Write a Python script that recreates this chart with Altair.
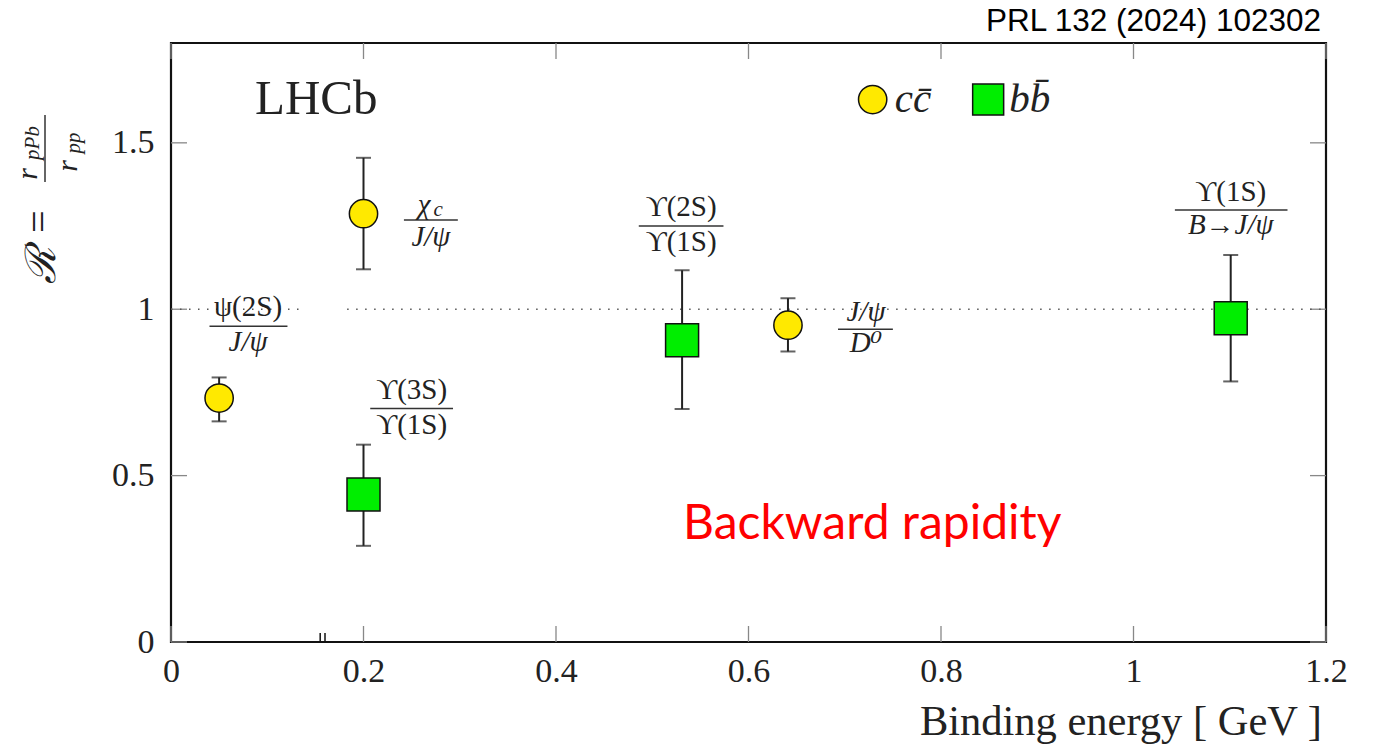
import altair as alt
import pandas as pd

# ---- data ----
cc_x = [0.050, 0.200, 0.641]
cc_y = [0.733, 1.287, 0.952]
cc_lo = [0.663, 1.120, 0.873]
cc_hi = [0.795, 1.455, 1.033]

bb_x = [0.200, 0.531, 1.101]
bb_y = [0.443, 0.907, 0.973]
bb_lo = [0.289, 0.700, 0.783]
bb_hi = [0.593, 1.117, 1.163]

lbl_num = ["ψ(2S)", "χ", "ϒ(3S)", "ϒ(2S)", "J/ψ", "ϒ(1S)"]
lbl_num_it = [False, True, False, False, True, False]
lbl_den = ["J/ψ", "J/ψ", "ϒ(1S)", "ϒ(1S)", "D⁰", "B→J/ψ"]
lbl_den_it = [True, True, False, False, True, True]
lbl_x = [0.080, 0.270, 0.250, 0.530, 0.722, 1.101]
lbl_num_x = [0.080, 0.263, 0.250, 0.530, 0.722, 1.101]
lbl_num_y = [1.006, 1.312, 0.756, 1.306, 0.992, 1.351]
lbl_bar_y = [0.949, 1.268, 0.702, 1.250, 0.940, 1.298]
lbl_den_y = [0.901, 1.218, 0.652, 1.203, 0.898, 1.254]
lbl_x1 = [0.040, 0.242, 0.207, 0.486, 0.693, 1.043]
lbl_x2 = [0.121, 0.298, 0.293, 0.574, 0.750, 1.160]

sub_text = ["c"]
sub_x = [0.2775]
sub_y = [1.297]

ref_x1 = [0.0, 0.183]
ref_x2 = [0.136, 1.2]
ref_y = [1.0, 1.0]

x_ticks = [0, 0.2, 0.4, 0.6, 0.8, 1.0, 1.2]
y_ticks = [0, 0.5, 1.0, 1.5]
mini_ticks = [0.155, 0.160]

SERIF = "Liberation Serif, DejaVu Serif, serif"
W, H = 1155, 599
YELLOW = "#ffe900"
GREEN = "#00ee00"

xs = alt.Scale(domain=[0, 1.2], nice=False, zero=False)
ys = alt.Scale(domain=[0, 1.8], nice=False, zero=False)

cc = pd.DataFrame({"x": cc_x, "y": cc_y, "lo": cc_lo, "hi": cc_hi})
bb = pd.DataFrame({"x": bb_x, "y": bb_y, "lo": bb_lo, "hi": bb_hi})
err = pd.concat([cc, bb], ignore_index=True)
lbl = pd.DataFrame({"num": lbl_num, "den": lbl_den, "x": lbl_x, "nx": lbl_num_x, "ny": lbl_num_y,
                    "by": lbl_bar_y, "dy": lbl_den_y, "x1": lbl_x1, "x2": lbl_x2,
                    "nit": lbl_num_it, "dit": lbl_den_it})
sub = pd.DataFrame({"t": sub_text, "x": sub_x, "y": sub_y})
ref = pd.DataFrame({"x1": ref_x1, "x2": ref_x2, "y": ref_y})
xt = pd.DataFrame({"v": x_ticks})
yt = pd.DataFrame({"v": y_ticks})
mt = pd.DataFrame({"v": mini_ticks})

X = lambda f="x": alt.X(f"{f}:Q", scale=xs, axis=alt.Axis(
    values=x_ticks, format=".1~f", tickSize=0, domain=False, grid=False,
    labelFont=SERIF, labelFontSize=34, labelColor="#222", labelPadding=12,
    labelFlush=False, title=None))
Y = lambda f="y": alt.Y(f"{f}:Q", scale=ys, axis=alt.Axis(
    values=y_ticks, format=".1~f", tickSize=0, domain=False, grid=False,
    labelFont=SERIF, labelFontSize=34, labelColor="#222", labelPadding=17,
    labelFlush=False, title=None))

base_axes = alt.Chart(xt).mark_rule(color="#888", strokeWidth=1.3).encode(
    x=X("v"), y=alt.value(H), y2=alt.value(H - 16))
top_ticks = alt.Chart(xt).mark_rule(color="#888", strokeWidth=1.3).encode(
    x=alt.X("v:Q", scale=xs), y=alt.value(0), y2=alt.value(16))
left_ticks = alt.Chart(yt).mark_rule(color="#888", strokeWidth=1.3).encode(
    y=Y("v"), x=alt.value(0), x2=alt.value(16))
right_ticks = alt.Chart(yt).mark_rule(color="#888", strokeWidth=1.3).encode(
    y=alt.Y("v:Q", scale=ys), x=alt.value(W), x2=alt.value(W - 16))
mini = alt.Chart(mt).mark_rule(color="#111", strokeWidth=1.5).encode(
    x=alt.X("v:Q", scale=xs), y=alt.value(H), y2=alt.value(H - 9))

dotted = alt.Chart(ref).mark_rule(color="#555", strokeWidth=1.5, strokeDash=[1.5, 7.5]).encode(
    x=alt.X("x1:Q", scale=xs), x2="x2:Q", y=alt.Y("y:Q", scale=ys))

ebar = alt.Chart(err).mark_rule(color="#222", strokeWidth=2).encode(
    x=alt.X("x:Q", scale=xs), y=alt.Y("lo:Q", scale=ys), y2="hi:Q")
cap_lo = alt.Chart(err).mark_tick(color="#222", orient="horizontal", size=15, thickness=2).encode(
    x=alt.X("x:Q", scale=xs), y=alt.Y("lo:Q", scale=ys))
cap_hi = alt.Chart(err).mark_tick(color="#222", orient="horizontal", size=15, thickness=2).encode(
    x=alt.X("x:Q", scale=xs), y=alt.Y("hi:Q", scale=ys))

pts_cc = alt.Chart(cc).mark_point(shape="circle", size=800, filled=True, fill=YELLOW,
                                  stroke="#111", strokeWidth=1.5, opacity=1).encode(
    x=alt.X("x:Q", scale=xs), y=alt.Y("y:Q", scale=ys))
pts_bb = alt.Chart(bb).mark_point(shape="square", size=1089, filled=True, fill=GREEN,
                                  stroke="#111", strokeWidth=1.5, opacity=1).encode(
    x=alt.X("x:Q", scale=xs), y=alt.Y("y:Q", scale=ys))


def frac_text(field, xfield, yfield, flag, italic):
    return alt.Chart(lbl).transform_filter(
        f"datum.{flag} == {'true' if italic else 'false'}"
    ).mark_text(font=SERIF, fontSize=29, color="#222", baseline="middle",
                fontStyle="italic" if italic else "normal").encode(
        x=alt.X(f"{xfield}:Q", scale=xs), y=alt.Y(f"{yfield}:Q", scale=ys), text=f"{field}:N")


num_u = frac_text("num", "nx", "ny", "nit", False)
num_i = frac_text("num", "nx", "ny", "nit", True)
den_u = frac_text("den", "x", "dy", "dit", False)
den_i = frac_text("den", "x", "dy", "dit", True)
subs = alt.Chart(sub).mark_text(font=SERIF, fontSize=21, fontStyle="italic", color="#222",
                                baseline="middle").encode(
    x=alt.X("x:Q", scale=xs), y=alt.Y("y:Q", scale=ys), text="t:N")
fbar = alt.Chart(lbl).mark_rule(color="#333", strokeWidth=1.5).encode(
    x=alt.X("x1:Q", scale=xs), x2="x2:Q", y=alt.Y("by:Q", scale=ys))

# legend + texts
leg = pd.DataFrame({"x": [0.729, 0.849], "y": [1.63, 1.63], "t": ["cc̄", "bb̄"],
                    "tx": [0.752, 0.871]})
leg_c = alt.Chart(leg.iloc[[0]]).mark_point(shape="circle", size=800, filled=True, fill=YELLOW,
                                            stroke="#111", strokeWidth=1.5, opacity=1).encode(
    x=alt.X("x:Q", scale=xs), y=alt.Y("y:Q", scale=ys))
leg_b = alt.Chart(leg.iloc[[1]]).mark_point(shape="square", size=961, filled=True, fill=GREEN,
                                            stroke="#111", strokeWidth=1.5, opacity=1).encode(
    x=alt.X("x:Q", scale=xs), y=alt.Y("y:Q", scale=ys))
leg_t = alt.Chart(leg).mark_text(font=SERIF, fontSize=41, fontStyle="italic", color="#222",
                                 align="left", baseline="middle").encode(
    x=alt.X("tx:Q", scale=xs), y=alt.Y("y:Q", scale=ys), text="t:N")

txt = pd.DataFrame({"x": [0.0873], "y": [1.633], "t": ["LHCb"]})
lhcb = alt.Chart(txt).mark_text(font=SERIF, fontSize=49, color="#222", align="left",
                                baseline="middle").encode(
    x=alt.X("x:Q", scale=xs), y=alt.Y("y:Q", scale=ys), text="t:N")

bw = pd.DataFrame({"x": [0.532], "y": [0.353], "t": ["Backward rapidity"]})
back = alt.Chart(bw).mark_text(font="Lato, Open Sans, sans-serif", fontSize=48, color="#ff0000",
                               align="left", baseline="middle").encode(
    x=alt.X("x:Q", scale=xs), y=alt.Y("y:Q", scale=ys), text="t:N")

# annotations positioned in pixels (view coordinates)
ann = pd.DataFrame({"t": ["PRL 132 (2024) 102302"]})
prl = alt.Chart(ann).mark_text(font="Liberation Sans, Arial, sans-serif", fontSize=31.5, color="#000",
                               align="right", baseline="middle").encode(
    x=alt.value(W - 5), y=alt.value(-21), text="t:N")
xtitle_df = pd.DataFrame({"t": ["Binding energy [ GeV ]"]})
xtitle = alt.Chart(xtitle_df).mark_text(font=SERIF, fontSize=42.5, color="#222",
                                        align="right", baseline="middle").encode(
    x=alt.value(W - 4), y=alt.value(679), text="t:N")

yl = pd.DataFrame({
    "t": ["ℛ", "=", "r", "pPb", "r", "pp"],
    "px": [-129, -131, -143, -138, -103, -97],
    "py": [222, 179, 131, 100, 123, 100],
    "fs": [42, 40, 30, 21, 30, 21],
})
ytitle = alt.Chart(yl).mark_text(font=SERIF, color="#222", angle=270, baseline="middle",
                                 align="center", fontStyle="italic").encode(
    x=alt.X("px:Q", scale=None), y=alt.Y("py:Q", scale=None), text="t:N",
    size=alt.Size("fs:Q", scale=None, legend=None))
ybar = alt.Chart(pd.DataFrame({"a": [0]})).mark_rule(color="#333", strokeWidth=1.5).encode(
    x=alt.value(-126), y=alt.value(72), y2=alt.value(139))

chart = alt.layer(
    base_axes, top_ticks, left_ticks, right_ticks, mini, dotted, fbar,
    num_u, num_i, den_u, den_i, subs,
    ebar, cap_lo, cap_hi, pts_cc, pts_bb, leg_c, leg_b, leg_t, lhcb, back,
    prl, xtitle, ytitle, ybar
).properties(
    width=W, height=H,
    autosize=alt.AutoSizeParams(type="none"),
    padding={"left": 171, "top": 43, "right": 47, "bottom": 105},
).configure_view(stroke="#111", strokeWidth=2.2)

chart.save("out.html", embed_options={"renderer": "svg", "actions": False})
